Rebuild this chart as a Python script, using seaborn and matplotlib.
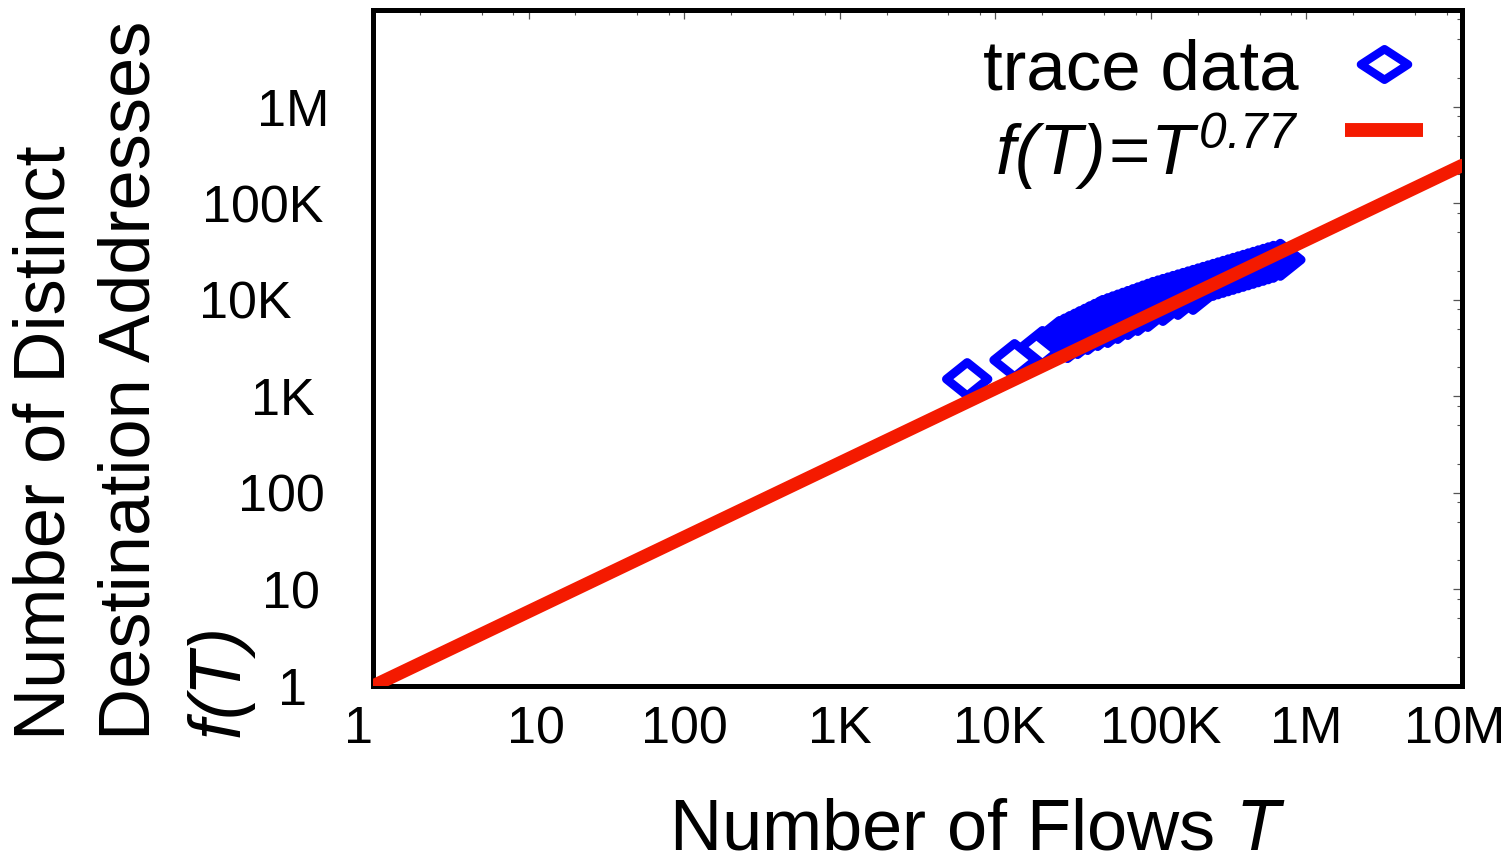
import numpy as np
import pandas as pd
import matplotlib
matplotlib.use("Agg")
import matplotlib.pyplot as plt
import matplotlib.transforms as mtransforms
from matplotlib.ticker import LogLocator, FixedLocator, FixedFormatter, NullFormatter
from matplotlib.lines import Line2D
from matplotlib.path import Path
from matplotlib.legend_handler import HandlerLine2D
import seaborn as sns

# ---- data (dense band of trace points) ----
flows = [6600, 13300, 20100, 25870, 27870, 30020, 32340, 34830, 37520, 40420,
         43530, 46880, 49010, 52800, 56860, 61260, 65970, 71060, 76540, 82440,
         88800, 95630, 103000, 111000, 119500, 128700, 138700, 149400, 160900,
         173300, 186700, 201000, 216500, 233200, 251200, 270500, 291400, 313900,
         338100, 364200, 392300, 422500, 455200, 490100, 528100, 568500, 612700,
         679700,
         29140, 33810, 39230, 45510, 52800, 61260, 71060, 82440, 95630, 119500,
         149400, 186700]
distinct = [1505, 2371, 3236, 4109, 4351, 4619, 4892, 5194, 5501, 5840,
            6185, 6550, 6788, 7087, 7400, 7726, 8065, 8418, 8789, 9176,
            9579, 10000, 10440, 10820, 11215, 11620, 12050, 12490, 12945,
            13420, 13910, 14420, 14945, 15490, 16055, 16640, 17250, 17880,
            18530, 19210, 19910, 20630, 21390, 22170, 22980, 23820, 24690,
            25900,
            3646, 4012, 4415, 4858, 5220, 5743, 6318, 6955, 7651, 8831,
            10190, 11490]
fit_exponent = 0.77
fit_T = [1, 10_000_000]
x_ticks = [1, 10, 100, 1_000, 10_000, 100_000, 1_000_000, 10_000_000]
x_tick_labels = ["1", "10", "100", "1K", "10K", "100K", "1M", "10M"]
y_ticks = [1, 10, 100, 1_000, 10_000, 100_000, 1_000_000]
y_tick_labels = ["1", "10", "100", "1K", "10K", "100K", "1M"]

df = pd.DataFrame({"T": flows, "f": distinct})
fit_df = pd.DataFrame({"T": fit_T, "f": [t ** fit_exponent for t in fit_T]})

sns.set_theme(style="white")
plt.rcParams["font.family"] = ["Liberation Sans", "DejaVu Sans"]
plt.rcParams["mathtext.fontset"] = "custom"
plt.rcParams["mathtext.it"] = "Liberation Sans:italic"
plt.rcParams["mathtext.rm"] = "Liberation Sans:italic"
plt.rcParams["mathtext.sf"] = "Liberation Sans:italic"
plt.rcParams["text.color"] = "black"
plt.rcParams["axes.labelcolor"] = "black"

BLUE = "#0000FF"
RED = "#F41A00"

W, H = 1509, 863
fig = plt.figure(figsize=(W / 100, H / 100), dpi=100)
ax = fig.add_axes([373 / W, 1 - 686 / H, (1462 - 373) / W, (686 - 10) / H])

diamond = Path([(-1, 0), (0, 0.8), (1, 0), (0, -0.8), (-1, 0)],
               [Path.MOVETO, Path.LINETO, Path.LINETO, Path.LINETO, Path.CLOSEPOLY])

sns.scatterplot(data=df, x="T", y="f", ax=ax, marker=diamond, s=900,
                color=BLUE, linewidth=6.3, zorder=2, legend=False)
coll = ax.collections[0]
coll.set_facecolor("none")
coll.set_edgecolor(BLUE)
coll.set_linewidth(6.3)

sns.lineplot(data=fit_df, x="T", y="f", ax=ax, color=RED, linewidth=9.5,
             zorder=3, legend=False)

ax.set_xscale("log")
ax.set_yscale("log")
ax.set_xlim(1, 1e7)
ax.set_ylim(1, 1e7)

ax.xaxis.set_major_locator(FixedLocator(x_ticks))
ax.xaxis.set_major_formatter(FixedFormatter(x_tick_labels))
ax.yaxis.set_major_locator(FixedLocator(y_ticks))
ax.yaxis.set_major_formatter(FixedFormatter(y_tick_labels))
ax.xaxis.set_minor_locator(LogLocator(base=10, subs=(2, 5, 8), numticks=30))
ax.yaxis.set_minor_locator(LogLocator(base=10, subs=(2, 5, 8), numticks=30))
ax.xaxis.set_minor_formatter(NullFormatter())
ax.yaxis.set_minor_formatter(NullFormatter())

ax.tick_params(axis="both", which="both", direction="in", top=True, right=True,
               colors="#555555", labelcolor="black")
ax.tick_params(axis="both", which="major", length=6.5, width=0.9, labelsize=37.5)
ax.tick_params(axis="both", which="minor", length=3.5, width=0.8)
ax.tick_params(axis="x", which="major", pad=14)
ax.tick_params(axis="y", which="major", pad=0)

# per-label horizontal placement as in the reference (pixels)
y_label_right_px = [307, 320, 325, 315, 292, 323, 329]
for lab, rpx in zip(ax.yaxis.get_majorticklabels(), y_label_right_px):
    dx = (rpx - 373) / 100.0
    lab.set_transform(lab.get_transform() +
                      mtransforms.ScaledTranslation(dx, 0, fig.dpi_scale_trans))
x_label_shift_px = [-15, 7, 0, 0, 4, 10, 0, -7]
for lab, dpx in zip(ax.xaxis.get_majorticklabels(), x_label_shift_px):
    lab.set_transform(lab.get_transform() +
                      mtransforms.ScaledTranslation(dpx / 100.0, 0, fig.dpi_scale_trans))

for s in ax.spines.values():
    s.set_visible(True)
    s.set_color("black")
    s.set_linewidth(3.6)

ax.set_xlabel("")
ax.set_ylabel("")

fig.text(977 / W, 1 - 831 / H, "Number of Flows $T$", fontsize=52,
         ha="center", va="center", color="black")
fig.text(46 / W, 1 - 740 / H, "Number of Distinct", fontsize=52,
         rotation=90, ha="center", va="bottom", color="black")
fig.text(131 / W, 1 - 740 / H, "Destination Addresses", fontsize=52,
         rotation=90, ha="center", va="bottom", color="black")
fig.text(222 / W, 1 - 740 / H, "$f(T)$", fontsize=52,
         rotation=90, ha="center", va="bottom", color="black")


class ShiftedLineHandler(HandlerLine2D):
    def __init__(self, dy=0.0, **kw):
        super().__init__(**kw)
        self.dy = dy

    def create_artists(self, legend, orig_handle, xdescent, ydescent, width,
                       height, fontsize, trans):
        artists = super().create_artists(legend, orig_handle, xdescent, ydescent,
                                         width, height, fontsize, trans)
        for a in artists:
            a.set_ydata(np.asarray(a.get_ydata(), dtype=float) + self.dy)
        return artists


legend_diamond = Path([(-1, 0), (0, 0.65), (1, 0), (0, -0.65), (-1, 0)],
                      [Path.MOVETO, Path.LINETO, Path.LINETO, Path.LINETO, Path.CLOSEPOLY])
h1 = Line2D([], [], linestyle="none", marker=legend_diamond, markersize=34,
            markerfacecolor="none", markeredgecolor=BLUE, markeredgewidth=6)
h2 = Line2D([], [], color=RED, linewidth=10, solid_capstyle="butt")
leg = ax.legend([h1, h2], ["trace data", r"$f(T)\!=\!T^{0.77}$"],
                loc="upper right", bbox_to_anchor=(1423 / W, 1 - 38 / H),
                bbox_transform=fig.transFigure, frameon=False, markerfirst=False,
                fontsize=51, handlelength=1.1, handletextpad=0.65,
                labelspacing=0.1, borderpad=0, borderaxespad=0,
                handler_map={h2: ShiftedLineHandler(dy=14)})

fig.savefig("out.png", dpi=100, facecolor="white")
